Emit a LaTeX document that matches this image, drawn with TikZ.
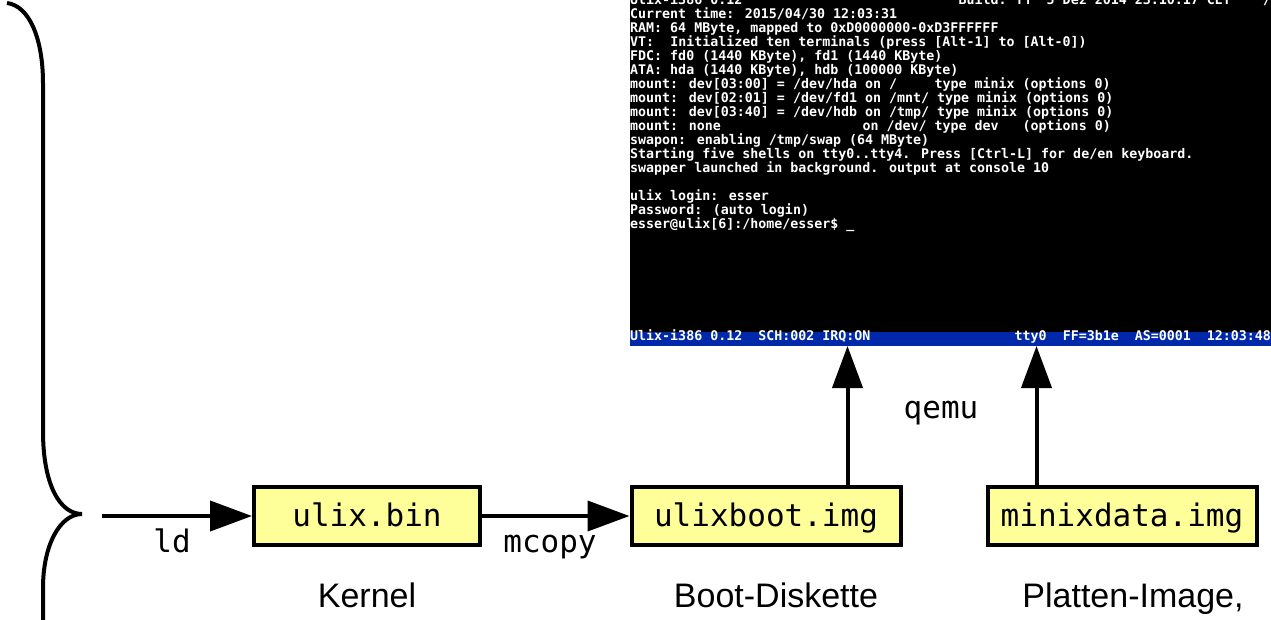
\documentclass[tikz,border=0pt]{standalone}
\usepackage{fontspec}
\setsansfont{Liberation Sans}
\setmonofont{DejaVu Sans Mono}
\newfontfamily\vgafont{DejaVu Sans Mono}
\usetikzlibrary{arrows.meta}
\definecolor{fileyellow}{HTML}{FFFF99}
\definecolor{statusblue}{HTML}{0028AA}
\newcommand{\termrow}[3]{\node (t#1c#2) [termtext] at ({630+8.01*#2},{14*#1+4}) {#3};}

\begin{document}
\begin{tikzpicture}[x=1pt,y=-1pt,
   filebox/.style={draw,line width=4pt,fill=fileyellow,minimum height=58pt,inner sep=0pt,
      text height=24pt,text depth=4pt,font=\ttfamily\fontsize{31}{31}\selectfont},
   flow/.style={line width=4pt,-{Triangle[length=42pt,width=30pt]}},
   tool/.style={anchor=base,inner sep=0pt,font=\ttfamily\fontsize{31}{31}\selectfont},
   caption/.style={anchor=base,inner sep=0pt,font=\sffamily\fontsize{34}{34}\selectfont},
   termtext/.style={anchor=base west,inner sep=0pt,text=white,
      font=\vgafont\bfseries\fontsize{13.3}{14}\selectfont}]
\useasboundingbox (0,0) rectangle (1271,619);

% brace
\draw [line width=4pt] (7,3) .. controls (30,6) and (43,40) .. (43,83) -- (43,431)
   .. controls (43,485) and (60,514) .. (82,514)
   .. controls (60,514) and (43,545) .. (43,588) -- (43,625);

% qemu screen
\node (screen) [fill=black,inner sep=0pt,minimum width=641pt,minimum height=346pt,anchor=south west] at (630,346) {};
\fill [statusblue] (630,332) rectangle (1271,346);
\begin{scope}
\clip (630,0) rectangle (1271,346);
\termrow{0}{0}{Ulix-i386 0.12}
\termrow{0}{41}{Build: Fr}
\termrow{0}{52}{5 Dez 2014 23:10:17 CET}
\termrow{0}{79}{/}
\termrow{1}{0}{Current time: 2015/04/30 12:03:31}
\termrow{2}{0}{RAM: 64 MByte, mapped to 0xD0000000-0xD3FFFFFF}
\termrow{3}{0}{VT:}
\termrow{3}{5}{Initialized ten terminals (press [Alt-1] to [Alt-0])}
\termrow{4}{0}{FDC: fd0 (1440 KByte), fd1 (1440 KByte)}
\termrow{5}{0}{ATA: hda (1440 KByte), hdb (100000 KByte)}
\termrow{6}{0}{mount: dev[03:00] = /dev/hda on /}
\termrow{6}{38}{type minix (options 0)}
\termrow{7}{0}{mount: dev[02:01] = /dev/fd1 on /mnt/ type minix (options 0)}
\termrow{8}{0}{mount: dev[03:40] = /dev/hdb on /tmp/ type minix (options 0)}
\termrow{9}{0}{mount: none}
\termrow{9}{29}{on /dev/ type dev}
\termrow{9}{49}{(options 0)}
\termrow{10}{0}{swapon: enabling /tmp/swap (64 MByte)}
\termrow{11}{0}{Starting five shells on tty0..tty4. Press [Ctrl-L] for de/en keyboard.}
\termrow{12}{0}{swapper launched in background. output at console 10}
\termrow{14}{0}{ulix login: esser}
\termrow{15}{0}{Password: (auto login)}
\termrow{16}{0}{esser@ulix[6]:/home/esser\$ \_}
\termrow{24}{0}{Ulix-i386 0.12}
\termrow{24}{16}{SCH:002 IRQ:ON}
\termrow{24}{48}{tty0}
\termrow{24}{54}{FF=3b1e}
\termrow{24}{63}{AS=0001}
\termrow{24}{72}{12:03:48}
\end{scope}

% files
\node (ulixbin) [filebox,minimum width=226pt] at (367,516) {ulix.bin};
\node (ulixboot) [filebox,minimum width=269pt] at (766,516) {ulixboot.img};
\node (minixdata) [filebox,minimum width=269pt] at (1122,516) {minixdata.img};

\coordinate (objs) at (102,516);
\draw [flow] (objs) -- (ulixbin);
\draw [flow] (ulixbin) -- (ulixboot);
\draw [flow] ([xshift=-55pt]ulixboot.north east) -- ([xshift=-55pt]ulixboot.north east |- screen.south);
\draw [flow] ([xshift=51pt]minixdata.north west) -- ([xshift=51pt]minixdata.north west |- screen.south);

\node (ld) [tool] at (172,552) {ld};
\node (mcopy) [tool] at (550,552) {mcopy};
\node (qemu) [tool] at (941,418) {qemu};

\node (kernel) [caption] at (367,607) {Kernel};
\node (bootdisk) [caption] at (776,607) {Boot-Diskette};
\node (platten) [caption] at (1133,607) {Platten-Image,};

\end{tikzpicture}
\end{document}
